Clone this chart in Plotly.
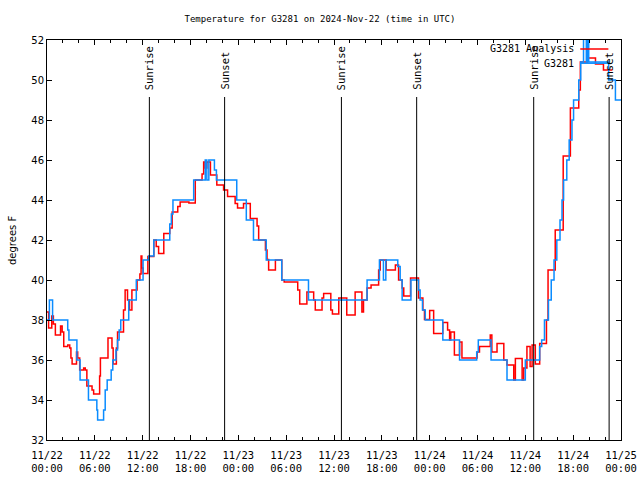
import pandas as pd
import plotly.graph_objects as go

START = pd.Timestamp("2024-11-22 00:00")

# Hours since 2024-11-22 00:00 UTC and temperatures (deg F), step series
analysis_hours = [0, 0.2, 0.6, 0.8, 1.05, 1.7, 1.9, 2.1, 2.6, 2.85, 3.0, 3.15, 3.7, 3.85, 4.1, 4.6, 4.8, 5.0,
                  5.65, 5.85, 6.6, 6.7, 7.65, 8.15, 8.3, 8.7, 8.85, 9.6, 9.8, 10.1, 10.35, 10.65, 11.3, 11.65,
                  11.8, 11.9, 12.05, 12.65, 13.4, 13.7, 14.0, 14.65, 15.4, 15.7, 16.4, 16.7, 17.8, 18.6, 19.45,
                  19.65, 19.85, 20.05, 20.5, 21.3, 22.15, 22.65, 23.6, 23.9, 24.65, 25.5, 26.35, 26.55, 27.4,
                  27.6, 27.8, 28.65, 29.45, 29.75, 31.45, 31.7, 32.6, 33.45, 33.65, 34.5, 34.7, 35.6, 35.8,
                  36.6, 37.6, 38.65, 39.5, 39.7, 40.15, 40.65, 41.6, 41.8, 42.55, 43.7, 44.1, 44.55, 44.75,
                  45.6, 46.6, 47.15, 47.35, 48.0, 48.5, 49.65, 50.25, 50.5, 50.65, 51.1, 51.75, 52.05, 53.95,
                  54.25, 55.6, 55.8, 56.45, 57.3, 57.7, 58.55, 58.75, 59.6, 59.8, 60.2, 60.6, 60.85, 61.25,
                  61.8, 62.65, 62.85, 63.75, 64.75, 65.65, 66.7, 66.9, 67.8, 68.8, 69.8, 70.9]
analysis_temp = [38.4, 37.6, 38.2, 37.8, 37.25, 37.7, 37.4, 36.67, 36.75, 36.6, 36.1, 35.8, 36.4, 36.1, 35.5,
                 35.6, 35.5, 34.7, 34.5, 34.3, 35.2, 36.1, 37.1, 36.6, 35.8, 36.6, 37.4, 38.5, 39.5, 39.0,
                 38.5, 39.5, 40.0, 40.3, 41.2, 40.6, 40.33, 41.17, 42.0, 41.67, 41.33, 42.33, 42.6, 43.4,
                 43.67, 43.9, 43.85, 45.0, 45.3, 45.9, 45.6, 45.9, 45.25, 44.75, 44.5, 44.17, 43.83, 43.6,
                 43.83, 43.08, 42.7, 42.0, 41.5, 41.03, 40.5, 41.0, 40.0, 39.9, 39.5, 38.8, 39.4, 39.0,
                 38.5, 39.1, 39.33, 38.5, 38.3, 39.1, 38.25, 39.4, 38.4, 39.0, 39.6, 39.75, 40.5, 41.0,
                 40.5, 40.75, 40.0, 39.6, 39.2, 40.1, 39.1, 38.5, 38.03, 38.47, 37.33, 37.87, 37.5, 37.0,
                 37.4, 36.25, 36.9, 36.1, 36.4, 36.67, 37.25, 36.4, 36.83, 36.0, 35.75, 35.0, 36.08, 35.0,
                 35.6, 36.67, 35.67, 36.75, 35.8, 36.83, 38.0, 40.5, 42.5, 46.2, 48.6, 49.5, 50.9, 51.1,
                 50.8, 50.5, 50.5]

station_hours = [0, 0.3, 0.7, 2.6, 2.75, 3.75, 4.15, 5.2, 6.25, 6.35, 7.1, 7.3, 7.55, 8.05, 8.25, 8.65, 8.85,
                 9.05, 9.25, 10.25, 11.2, 12.05, 12.75, 13.4, 15.4, 15.6, 15.8, 18.4, 19.85, 20.05, 20.3,
                 21.0, 21.25, 23.8, 25.0, 25.9, 27.5, 29.45, 32.8, 40.15, 41.7, 42.2, 42.5, 44.0, 44.3,
                 44.55, 45.65, 46.6, 46.8, 47.1, 47.45, 49.65, 51.75, 53.9, 54.1, 55.7, 57.7, 60.0, 61.8,
                 62.05, 62.4, 62.9, 63.25, 63.6, 63.95, 64.35, 64.6, 64.8, 65.2, 65.5, 65.85, 66.05, 66.7,
                 66.95, 67.3, 67.65, 67.8, 67.95, 70.45, 71.3, 72.0]
station_temp = [38.0, 39.0, 38.0, 37.5, 37.0, 36.0, 35.0, 34.0, 33.5, 33.0, 33.5, 34.5, 35.0, 35.5, 36.0, 36.5,
                37.0, 37.5, 38.0, 39.0, 40.0, 41.0, 41.2, 42.0, 42.8, 43.3, 44.0, 45.0, 46.0, 45.0, 46.0,
                45.5, 45.0, 44.0, 43.0, 42.0, 41.0, 40.0, 39.0, 40.0, 41.0, 40.0, 41.0, 40.67, 40.0, 39.0,
                40.0, 39.5, 39.0, 38.5, 38.0, 37.0, 36.0, 36.4, 37.0, 36.0, 35.0, 36.0, 36.67, 37.0, 38.0,
                39.0, 40.0, 41.0, 42.0, 43.0, 44.0, 45.0, 46.0, 47.0, 48.0, 49.0, 50.0, 50.9, 52.5, 50.9,
                52.5, 50.9, 50.0, 49.0, 49.0]

sun_hours = [12.84, 22.28, 36.93, 46.37, 61.05, 70.51]
sun_labels = ["Sunrise", "Sunset", "Sunrise", "Sunset", "Sunrise", "Sunset"]

tick_hours = list(range(0, 73, 6))


def to_time(hours):
    return [START + pd.Timedelta(hours=h) for h in hours]


MONO = "DejaVu Sans Mono"
RED = "#ff0000"
BLUE = "#0a8cff"

fig = go.Figure()
fig.add_trace(go.Scatter(x=to_time(analysis_hours), y=analysis_temp, mode="lines",
                         line=dict(color=RED, width=1.5, shape="hv"), name="G3281 Analysis"))
fig.add_trace(go.Scatter(x=to_time(station_hours), y=station_temp, mode="lines",
                         line=dict(color=BLUE, width=1.5, shape="hv"), name="G3281"))

shapes = []
annotations = []
for h, lab in zip(sun_hours, sun_labels):
    t = START + pd.Timedelta(hours=h)
    shapes.append(dict(type="line", xref="x", yref="paper", x0=t, x1=t, y0=0, y1=0.8575,
                       line=dict(color="black", width=1)))
    annotations.append(dict(x=t, y=0.87, xref="x", yref="paper", text=lab, textangle=-90,
                            showarrow=False, xanchor="center", yanchor="bottom",
                            font=dict(family=MONO, size=10.5, color="black")))

# legend (gnuplot style: text left, sample right)
annotations.append(dict(x=0.922, y=0.9775, xref="paper", yref="paper", text="G3281 Analysis",
                        showarrow=False, xanchor="right", yanchor="middle",
                        font=dict(family=MONO, size=10, color="black")))
annotations.append(dict(x=0.922, y=0.942, xref="paper", yref="paper", text="G3281",
                        showarrow=False, xanchor="right", yanchor="middle",
                        font=dict(family=MONO, size=10, color="black")))
shapes.append(dict(type="line", xref="paper", yref="paper", x0=0.929, x1=0.978, y0=0.9775, y1=0.9775,
                   line=dict(color=RED, width=1.5)))
shapes.append(dict(type="line", xref="paper", yref="paper", x0=0.929, x1=0.978, y0=0.942, y1=0.942,
                   line=dict(color=BLUE, width=1.5)))

annotations.append(dict(x=-0.061, y=0.5, xref="paper", yref="paper", text="degrees F", textangle=-90,
                        showarrow=False, xanchor="center", yanchor="middle",
                        font=dict(family="DejaVu Sans", size=10, color="black")))

tick_times = to_time(tick_hours)
tick_text = [t.strftime("%m/%d<br>%H:%M") for t in tick_times]

fig.update_layout(
    width=640, height=480,
    margin=dict(l=47, r=19, t=40, b=40, autoexpand=False),
    paper_bgcolor="white", plot_bgcolor="white",
    showlegend=False,
    title=dict(text="Temperature for G3281 on 2024-Nov-22 (time in UTC)", x=0.5, xanchor="center",
               xref="container", y=1 - 19 / 480, yanchor="middle", automargin=False,
               font=dict(family=MONO, size=9, color="black")),
    shapes=shapes, annotations=annotations,
)
fig.update_xaxes(
    type="date", range=[tick_times[0], tick_times[-1]], automargin=False,
    tickvals=tick_times, ticktext=tick_text, ticklabelstandoff=5,
    ticks="inside", ticklen=5, tickcolor="black", mirror="allticks",
    showline=True, linecolor="black", linewidth=1, showgrid=False, zeroline=False,
    tickfont=dict(family=MONO, size=10.5, color="black"),
    minor=dict(dtick=2 * 3600 * 1000, tick0=tick_times[0], ticks="inside", ticklen=3,
               tickcolor="black", showgrid=False),
)
fig.update_yaxes(
    range=[32, 52], dtick=2, tick0=32, automargin=False,
    ticks="inside", ticklen=5, tickcolor="black", mirror="allticks",
    showline=True, linecolor="black", linewidth=1, showgrid=False, zeroline=False,
    tickfont=dict(family="DejaVu Sans", size=10, color="black"),
)

fig.write_html("out.html", config={"displayModeBar": False},
               post_script="document.body.style.margin='0px';")
